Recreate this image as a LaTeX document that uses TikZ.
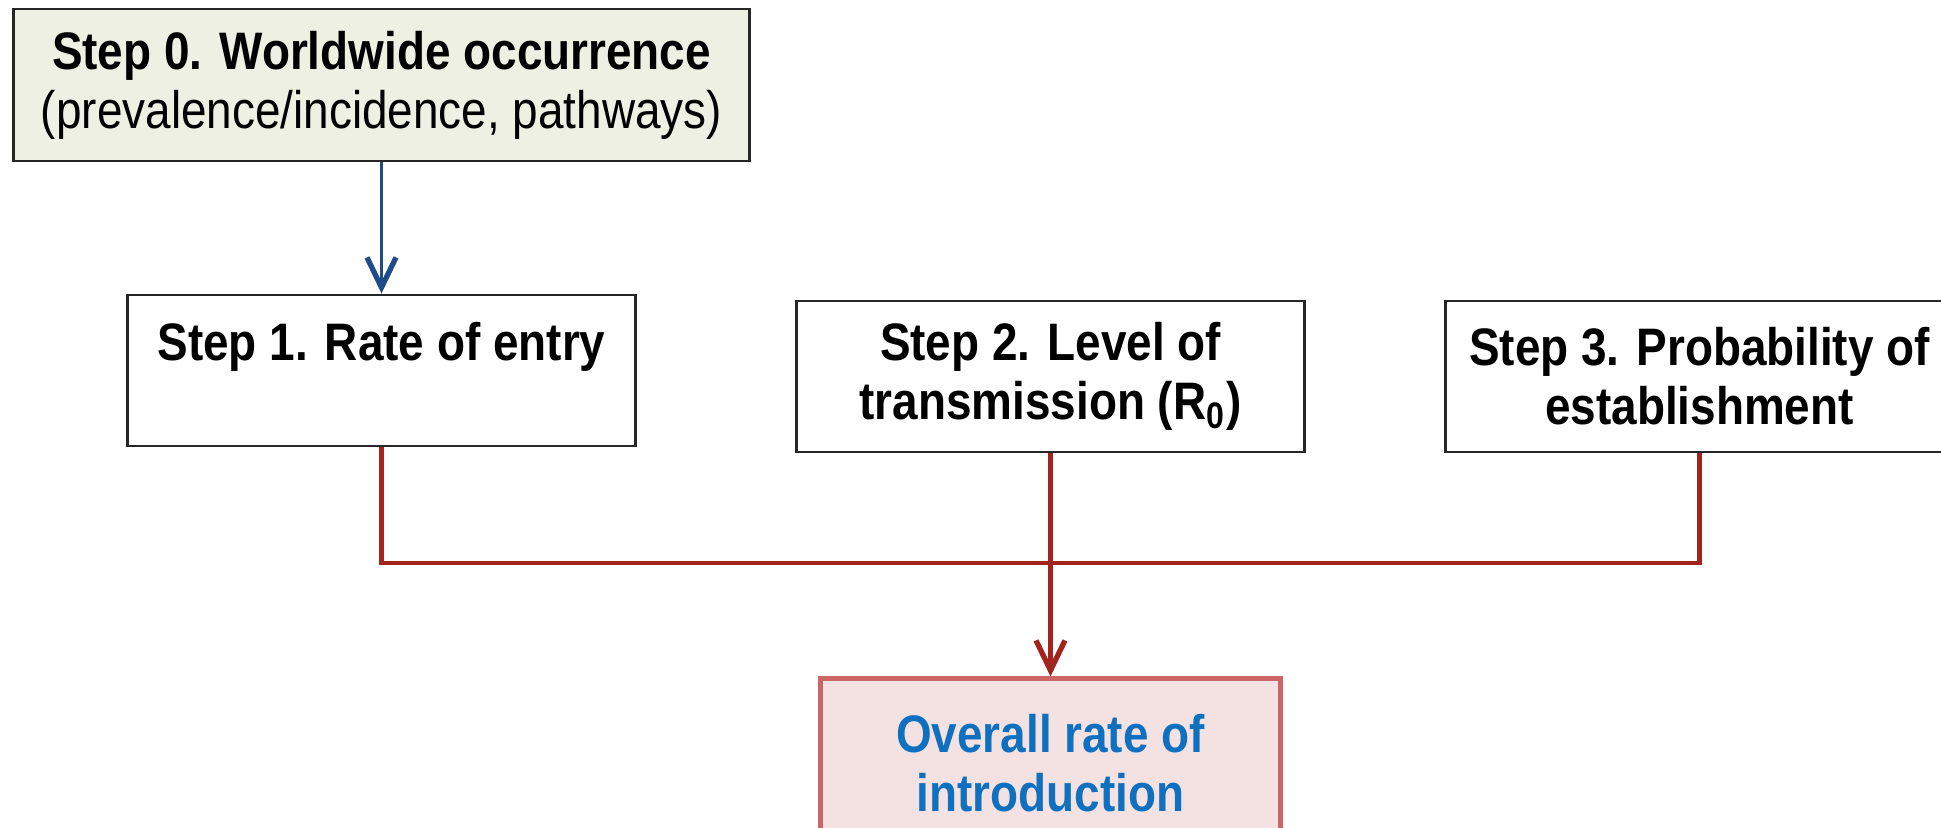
\documentclass[tikz,border=0pt]{standalone}
\usepackage{fontspec}
\setmainfont{Liberation Sans}[FakeStretch=0.87]
\usetikzlibrary{arrows.meta}

\definecolor{stepgreen}{HTML}{EEF0E4}
\definecolor{linkred}{HTML}{A2241C}
\definecolor{linkblue}{HTML}{1F4B8A}
\definecolor{overallfill}{HTML}{F4E2E2}
\definecolor{overalldraw}{HTML}{CC6666}
\definecolor{overalltext}{HTML}{1070C0}

\begin{document}
\begin{tikzpicture}[x=0.01cm, y=-0.01cm]
\useasboundingbox (0,0) rectangle (1941,828);

\begin{scope}[every node/.style={rectangle,thick,draw=black!85,fill=white,align=center,
              inner sep=0pt,minimum width=5.07cm,minimum height=1.51cm,
              font=\fontsize{15}{16.8}\selectfont\bfseries}]
    \node (step0) at (381.5, 85) [fill=stepgreen, minimum width=7.35cm, minimum height=1.52cm]
        {Step 0. Worldwide occurrence\\\mdseries (prevalence/incidence, pathways)};

    \node (step1) at (381.5, 370.5) {Step 1. Rate of entry\\~};
    \node (step2) at (1050.5, 376.5) {Step 2. Level of\\transmission (R\textsubscript{0})};
    \node (step3) at (1699.5, 376.5) {Step 3. Probability of\\establishment};

    \node (overall) at (1050.5, 763) [fill=overallfill, draw=overalldraw, line width=1.4pt,
        text=overalltext, minimum width=4.59cm, minimum height=1.68cm]
        {Overall rate of\\introduction};
\end{scope}

\coordinate (join) at (1050.5, 563);

\begin{scope}[>={Straight Barb[length=0.3cm,width=0.29cm,line width=1.5pt]},
              every edge/.style={draw=linkred,line width=1.3pt}]
    \path [->] (step0) edge [draw=linkblue, line width=0.9pt] (step1);
    \draw [linkred, line width=1.3pt] (step1.south) |- (join) -| (step3.south);
    \draw [linkred, line width=1.3pt] (step2.south) -- (join);
    \path [->] (join) edge (overall);
\end{scope}
\end{tikzpicture}
\end{document}
